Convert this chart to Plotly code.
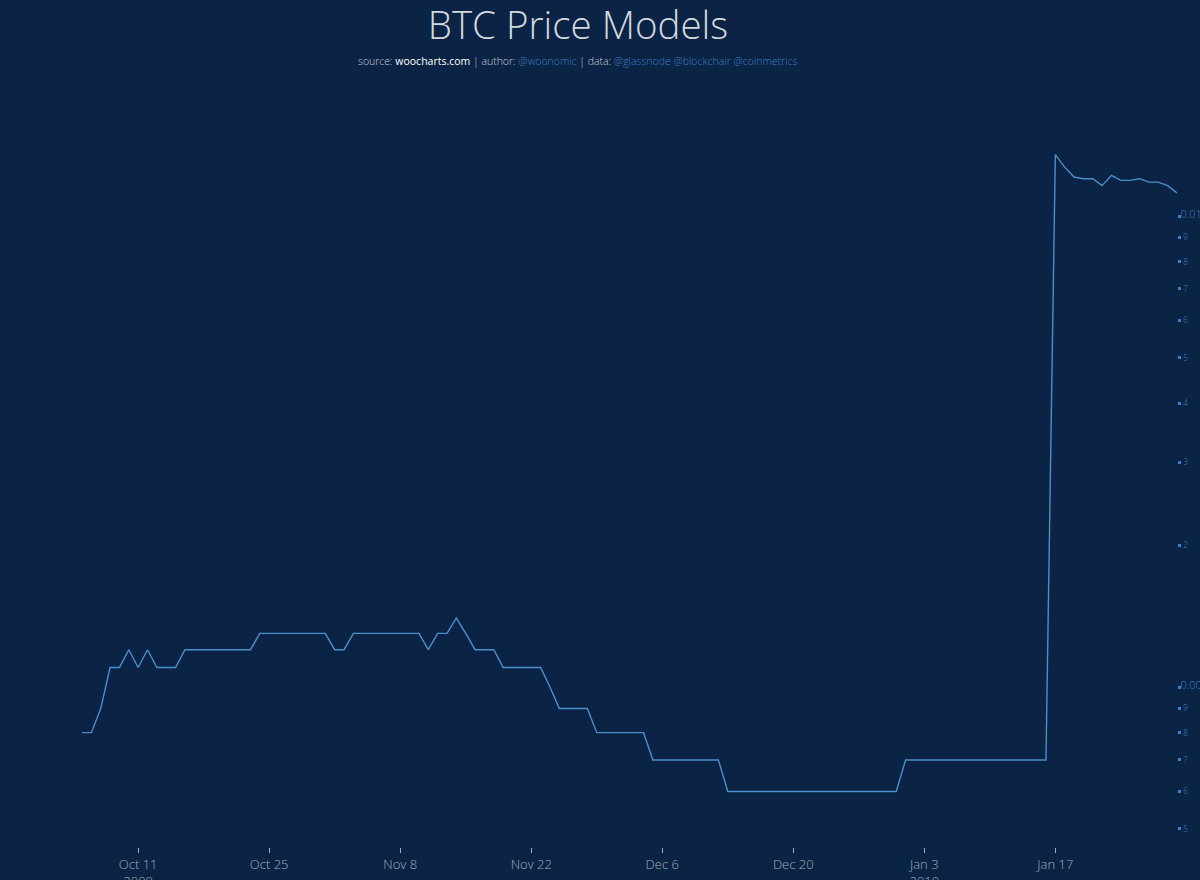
import pandas as pd
import plotly.graph_objs as go

# daily BTC price (USD), Oct 5 2009 - Jan 30 2010
start_date = '2009-10-05'
price = [
    0.0008, 0.0008, 0.0009, 0.0011, 0.0011, 0.0012, 0.0011, 0.0012, 0.0011, 0.0011,
    0.0011, 0.0012, 0.0012, 0.0012, 0.0012, 0.0012, 0.0012, 0.0012, 0.0012, 0.0013,
    0.0013, 0.0013, 0.0013, 0.0013, 0.0013, 0.0013, 0.0013, 0.0012, 0.0012, 0.0013,
    0.0013, 0.0013, 0.0013, 0.0013, 0.0013, 0.0013, 0.0013, 0.0012, 0.0013, 0.0013,
    0.0014, 0.0013, 0.0012, 0.0012, 0.0012, 0.0011, 0.0011, 0.0011, 0.0011, 0.0011,
    0.0010, 0.0009, 0.0009, 0.0009, 0.0009, 0.0008, 0.0008, 0.0008, 0.0008, 0.0008,
    0.0008, 0.0007, 0.0007, 0.0007, 0.0007, 0.0007, 0.0007, 0.0007, 0.0007, 0.0006,
    0.0006, 0.0006, 0.0006, 0.0006, 0.0006, 0.0006, 0.0006, 0.0006, 0.0006, 0.0006,
    0.0006, 0.0006, 0.0006, 0.0006, 0.0006, 0.0006, 0.0006, 0.0006, 0.0007, 0.0007,
    0.0007, 0.0007, 0.0007, 0.0007, 0.0007, 0.0007, 0.0007, 0.0007, 0.0007, 0.0007,
    0.0007, 0.0007, 0.0007, 0.0007, 0.0135, 0.0127, 0.0121, 0.0120, 0.0120, 0.0116,
    0.0122, 0.0119, 0.0119, 0.0120, 0.0118, 0.0118, 0.0116, 0.0112,
]
dates = pd.date_range(start_date, periods=len(price), freq='D')

bg = '#0b2345'
line_blue = '#4b8fcb'
tick_blue = '#3f7fc0'
grey = '#a3adbb'

data = go.Scatter(x=dates, y=price, mode='lines',
                  line=dict(color=line_blue, width=1.4),
                  showlegend=False, hoverinfo='skip')

subtitle = ("<span style='color:#c9ced6'>source: </span>"
            "<span style='color:#ffffff;font-weight:400'>woocharts.com</span>"
            "<span style='color:#c9ced6'> | author: </span>"
            "<span style='color:#3f7fc0'>@woonomic</span>"
            "<span style='color:#c9ced6'> | data: </span>"
            "<span style='color:#3f7fc0'>@glassnode @blockchair @coinmetrics</span>")

layout = go.Layout(
    width=1200, height=880,
    paper_bgcolor=bg, plot_bgcolor=bg,
    font=dict(family='Open Sans', color=grey),
    margin=dict(l=82, r=23, t=100, b=33),
    title=dict(text='BTC Price Models', x=578/1200, xanchor='center',
               y=0.971, yanchor='middle',
               font=dict(family='Open Sans', size=38.5, weight=300, color='#d3d8df')),
    annotations=[dict(text=subtitle, xref='paper', yref='paper',
                      x=(578-82)/1095, y=1.0522, xanchor='center', yanchor='middle',
                      showarrow=False,
                      font=dict(family='Open Sans', size=10.5, weight=300))],
    xaxis=dict(showgrid=False, zeroline=False, showline=False, automargin=False,
               ticks='outside', ticklen=5, tickwidth=1, tickcolor=grey,
               tick0='2009-10-11', dtick=14*86400000,
               tickfont=dict(size=13, color=grey, weight=300)),
    yaxis=dict(type='log', side='right', range=[-3.3397, -1.7537],
               showgrid=False, zeroline=False, showline=False, automargin=False,
               dtick='D1', ticks='outside', ticklen=3, tickwidth=3,
               tickcolor=tick_blue, tickfont=dict(size=11, color=tick_blue, weight=300)),
)

fig = go.Figure(data=data, layout=layout)
fig.write_html('out.html', config={'displayModeBar': False},
               post_script="document.body.style.margin='0';")
